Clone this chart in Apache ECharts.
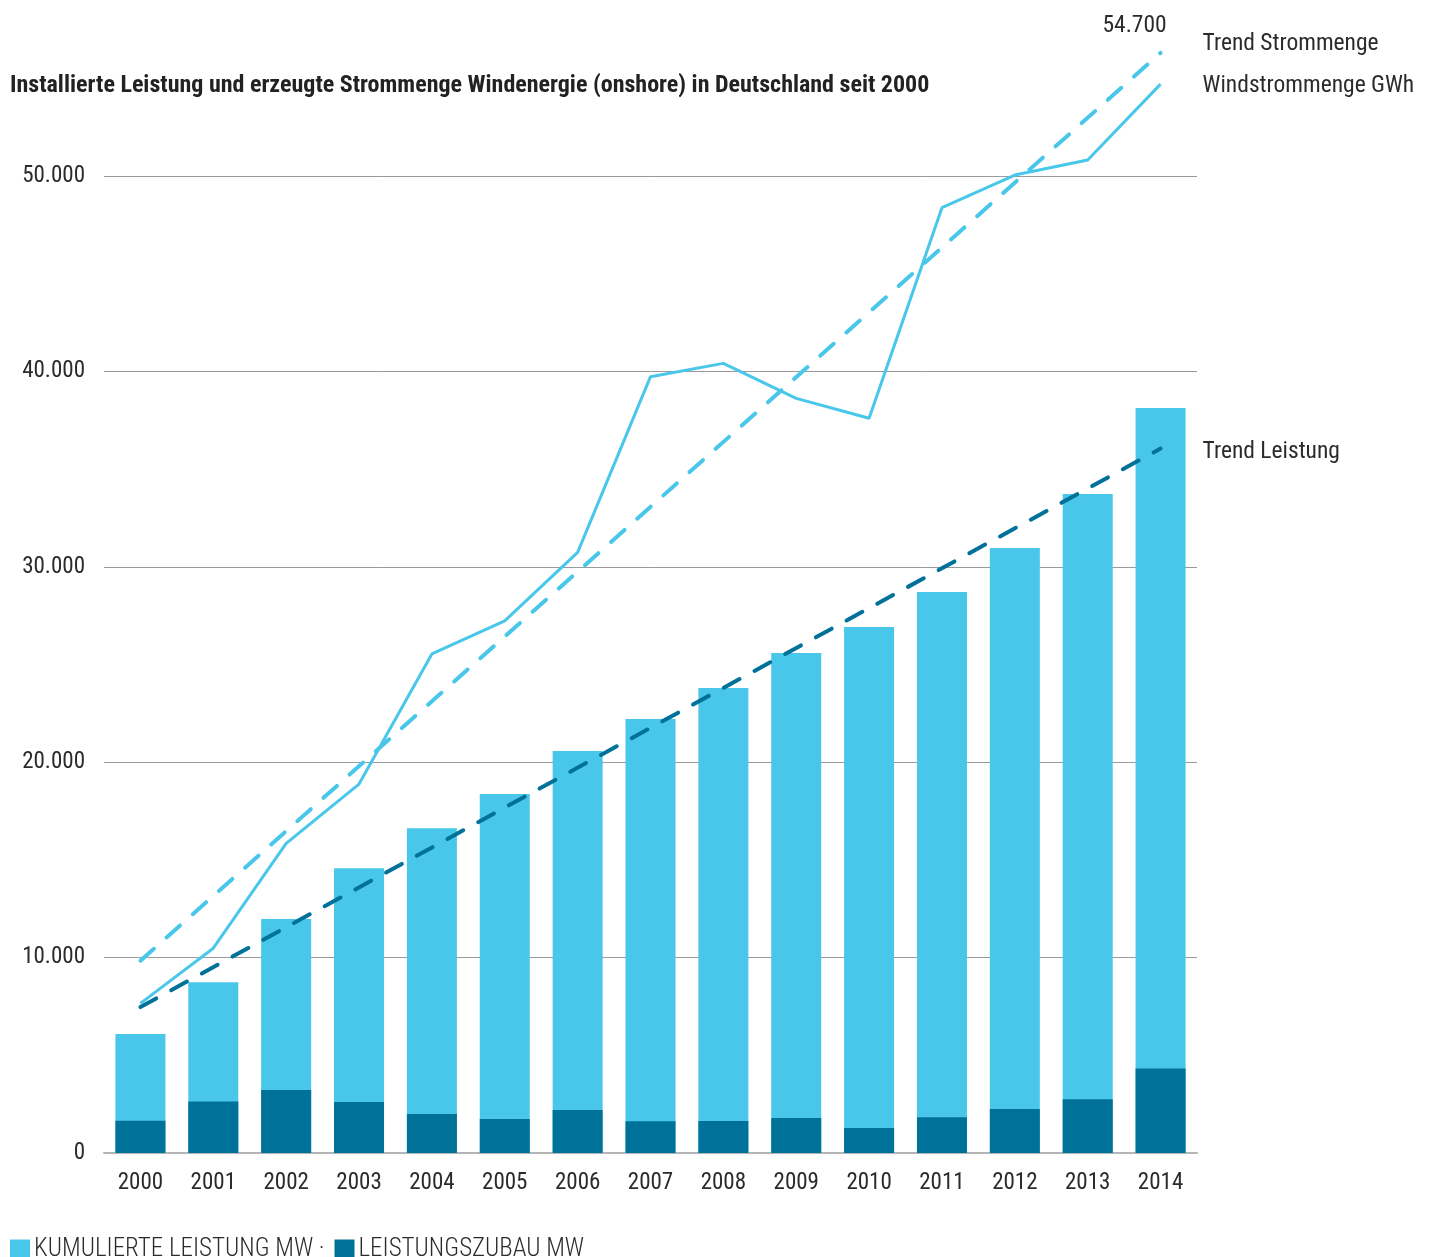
<!DOCTYPE html>
<html>
<head>
<meta charset="utf-8">
<script src="https://cdn.jsdelivr.net/npm/echarts@6/dist/echarts.min.js"></script>
<style>
  html, body { margin: 0; padding: 0; background: #fff; }
  #chart { width: 1432px; height: 1257px; }
</style>
</head>
<body>
<div id="chart"></div>
<script>
// Onshore wind in Germany, 2000–2014
const years = ['2000','2001','2002','2003','2004','2005','2006','2007','2008','2009','2010','2011','2012','2013','2014'];
// cumulative installed capacity (MW)
const kumulierteLeistung = [6090, 8740, 11980, 14570, 16620, 18370, 20570, 22210, 23800, 25590, 26920, 28710, 30960, 33730, 38130];
// capacity added per year (MW)
const leistungszubau = [1650, 2630, 3220, 2610, 2000, 1740, 2200, 1620, 1640, 1790, 1280, 1830, 2250, 2750, 4330];
// generated wind power (GWh)
const windstrommenge = [7660, 10480, 15850, 18880, 25540, 27230, 30740, 39730, 40410, 38620, 37600, 48380, 50050, 50820, 54700];
// linear trend endpoints [year, value]
const trendStrommenge = [['2000', 9840], ['2014', 56300]];
const trendLeistung = [['2000', 7470], ['2014', 36050]];
const yTicks = [0, 10000, 20000, 30000, 40000, 50000];

const FONT = "'Roboto Condensed', 'Liberation Sans Narrow', 'DejaVu Sans Condensed', Roboto, sans-serif";
const LIGHT = '#49C7EA';
const DARK = '#007299';
const TEXT = '#2b2b2b';
const fmt = v => String(Math.round(v)).replace(/\B(?=(\d{3})+(?!\d))/g, '.');

const chart = echarts.init(document.getElementById('chart'), null, { renderer: 'canvas' });

const lastIdx = windstrommenge.length - 1;

chart.setOption({
  animation: false,
  textStyle: { fontFamily: FONT },
  title: {
    text: 'Installierte Leistung und erzeugte Strommenge Windenergie (onshore) in Deutschland seit 2000',
    left: 5, top: 69,
    textStyle: { fontFamily: FONT, fontSize: 24, fontWeight: 'bold', color: '#222' }
  },
  grid: { left: 104, right: 235, top: 176, bottom: 104, containLabel: false },
  legend: {
    left: 5, top: 1232,
    icon: 'rect', itemWidth: 20, itemHeight: 20, itemGap: 10,
    data: ['KUMULIERTE LEISTUNG MW', 'LEISTUNGSZUBAU MW'],
    formatter: n => n === 'KUMULIERTE LEISTUNG MW' ? n + ' ·' : n,
    textStyle: { fontFamily: FONT, fontSize: 25, fontWeight: 300, color: TEXT, padding: [3, 0, 0, -1] }
  },
  xAxis: {
    type: 'category',
    data: years,
    axisTick: { show: false },
    axisLine: { lineStyle: { color: '#b5b5b5', width: 2 } },
    axisLabel: { margin: 19, fontFamily: FONT, fontSize: 23, color: TEXT }
  },
  yAxis: {
    type: 'value',
    min: yTicks[0], max: yTicks[yTicks.length - 1], interval: 10000,
    axisLine: { show: false },
    axisTick: { show: false },
    splitLine: { lineStyle: { color: '#9a9a9a', width: 1 } },
    axisLabel: { margin: 19, fontFamily: FONT, fontSize: 23, color: TEXT, formatter: v => fmt(v) }
  },
  series: [
    {
      name: 'KUMULIERTE LEISTUNG MW', type: 'bar', data: kumulierteLeistung,
      barWidth: 50, barGap: '-100%', itemStyle: { color: LIGHT }, z: 2
    },
    {
      name: 'LEISTUNGSZUBAU MW', type: 'bar', data: leistungszubau,
      barWidth: 50, barGap: '-100%', itemStyle: { color: DARK }, z: 3
    },
    {
      name: 'Trend Leistung', type: 'line', data: trendLeistung,
      symbol: 'none', clip: false, z: 4,
      lineStyle: { color: DARK, width: 4, type: [18, 17], cap: 'round' },
      endLabel: { show: true, formatter: 'Trend Leistung', distance: 42, offset: [0, 4],
        fontFamily: FONT, fontSize: 23.5, color: TEXT }
    },
    {
      name: 'Trend Strommenge', type: 'line', data: trendStrommenge,
      symbol: 'none', clip: false, z: 4,
      lineStyle: { color: LIGHT, width: 4, type: [18, 17], cap: 'round' },
      endLabel: { show: true, formatter: 'Trend Strommenge', distance: 42, offset: [0, -9],
        fontFamily: FONT, fontSize: 23.5, color: TEXT }
    },
    {
      name: 'Windstrommenge GWh', type: 'line', data: windstrommenge,
      symbol: 'none', clip: false, z: 5,
      lineStyle: { color: LIGHT, width: 3 },
      endLabel: { show: true, formatter: 'Windstrommenge GWh', distance: 42, offset: [0, 2],
        fontFamily: FONT, fontSize: 23.5, color: TEXT }
    }
  ]
});

// value label above the last generation point (outside the grid, so placed via the axes)
const lastPt = chart.convertToPixel({ gridIndex: 0 }, [lastIdx, windstrommenge[lastIdx]]);
chart.setOption({
  graphic: [{
    type: 'text',
    x: lastPt[0] - 26, y: lastPt[1] - 58,
    style: {
      text: fmt(windstrommenge[lastIdx]),
      font: '23.5px ' + FONT, fill: TEXT,
      align: 'center', verticalAlign: 'middle'
    },
    z: 10
  }]
});
</script>
</body>
</html>
